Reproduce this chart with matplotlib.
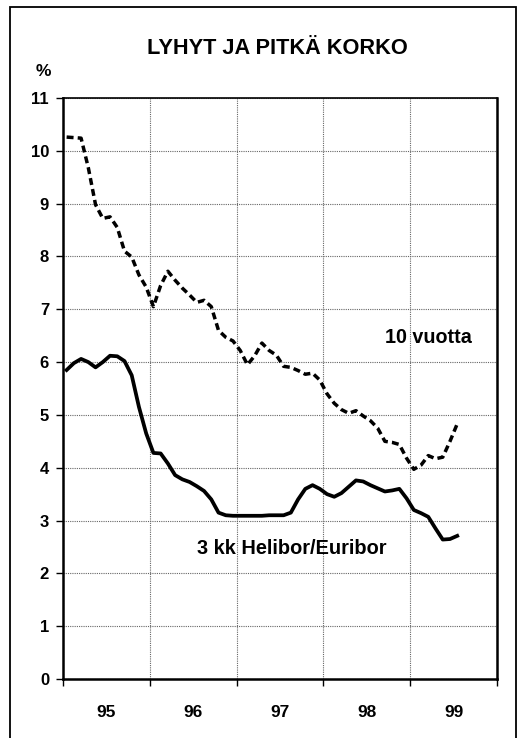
import matplotlib
matplotlib.use("Agg")
import matplotlib.pyplot as plt
from matplotlib.patches import Rectangle
from matplotlib.ticker import FixedLocator, NullFormatter, FixedFormatter

plt.rcParams['font.family'] = ['Liberation Sans', 'DejaVu Sans']

# Monthly data, Jan 1995 .. Jun 1999
ten_year = [10.26, 10.25, 10.24, 9.68, 8.98, 8.72, 8.75, 8.55, 8.10, 7.99,
            7.65, 7.42, 7.05, 7.45, 7.72, 7.55, 7.40, 7.27, 7.13, 7.17,
            7.05, 6.60, 6.47, 6.40, 6.22, 5.95, 6.12, 6.36, 6.22, 6.13,
            5.92, 5.90, 5.84, 5.77, 5.79, 5.66, 5.40, 5.22, 5.10, 5.03,
            5.08, 4.98, 4.89, 4.75, 4.50, 4.48, 4.44, 4.18, 3.97, 4.05,
            4.23, 4.17, 4.20, 4.50, 4.83]
helibor = [5.85, 5.98, 6.06, 6.00, 5.90, 6.00, 6.12, 6.11, 6.02, 5.75,
           5.15, 4.65, 4.28, 4.27, 4.08, 3.86, 3.78, 3.73, 3.65, 3.56,
           3.40, 3.15, 3.10, 3.09, 3.09, 3.09, 3.09, 3.09, 3.10, 3.10,
           3.10, 3.15, 3.40, 3.60, 3.67, 3.60, 3.50, 3.45, 3.52, 3.64,
           3.76, 3.74, 3.67, 3.61, 3.55, 3.57, 3.60, 3.42, 3.20, 3.14,
           3.07, 2.85, 2.64, 2.65, 2.71]
year_labels = ["95", "96", "97", "98", "99"]
y_ticks = list(range(0, 12))

title = "LYHYT JA PITKÄ KORKO"
label_long = "10 vuotta"
label_short = "3 kk Helibor/Euribor"

W, H = 526, 738
fig = plt.figure(figsize=(W / 100, H / 100), dpi=100)
fig.patch.set_facecolor("white")

ax = fig.add_axes([63 / W, 1 - 679 / H, (497 - 63) / W, (679 - 98) / H])

months = [i + 0.5 for i in range(len(ten_year))]
ax.plot(months, ten_year, color="black", lw=2.5, linestyle=(0, (2.0, 1.2)),
        solid_capstyle="butt", dash_capstyle="butt", zorder=3)
ax.plot(months, helibor, color="black", lw=2.7, solid_joinstyle="round", zorder=3)

ax.set_xlim(0, 12 * len(year_labels))
ax.set_ylim(0, 11)

ax.xaxis.set_major_locator(FixedLocator([12 * i for i in range(len(year_labels) + 1)]))
ax.xaxis.set_major_formatter(NullFormatter())
ax.xaxis.set_minor_locator(FixedLocator([12 * i + 6 for i in range(len(year_labels))]))
ax.xaxis.set_minor_formatter(FixedFormatter(year_labels))
ax.tick_params(axis="x", which="minor", length=0, pad=19, labelsize=12.5)
ax.tick_params(axis="x", which="major", length=5, width=1.0, direction="out")
ax.set_yticks(y_ticks)
ax.tick_params(axis="y", length=5, width=1.0, direction="out", pad=5, labelsize=12)
for lab in ax.get_xticklabels(minor=True) + ax.get_yticklabels():
    lab.set_fontweight("bold")

ax.grid(True, which="major", color="#666666", linestyle=(0, (1, 1)), lw=0.8)
for s in ax.spines.values():
    s.set_color("black")
ax.spines["left"].set_linewidth(1.8)
ax.spines["bottom"].set_linewidth(1.8)
ax.spines["top"].set_linewidth(1.2)
ax.spines["right"].set_linewidth(1.8)

fig.text(277 / W, 1 - 48 / H, title, ha="center", va="center",
         fontsize=15.7, fontweight="bold")
fig.text(43 / W, 1 - 72 / H, "%", ha="center", va="center",
         fontsize=12.5, fontweight="bold")

ax.text((428 - 63) / (497 - 63), 1 - (338 - 98) / (679 - 98), label_long,
        transform=ax.transAxes, ha="center", va="center", fontsize=14.2,
        fontweight="bold")
ax.text((292 - 63) / (497 - 63), 1 - (548 - 98) / (679 - 98), label_short,
        transform=ax.transAxes, ha="center", va="center", fontsize=14.4,
        fontweight="bold")

frame = Rectangle((10 / W, -0.05), (516 - 10) / W, 1.05 - 7 / H,
                  transform=fig.transFigure, fill=False, edgecolor="black", lw=1.3)
fig.add_artist(frame)

fig.savefig("out.png", dpi=100, facecolor="white")
